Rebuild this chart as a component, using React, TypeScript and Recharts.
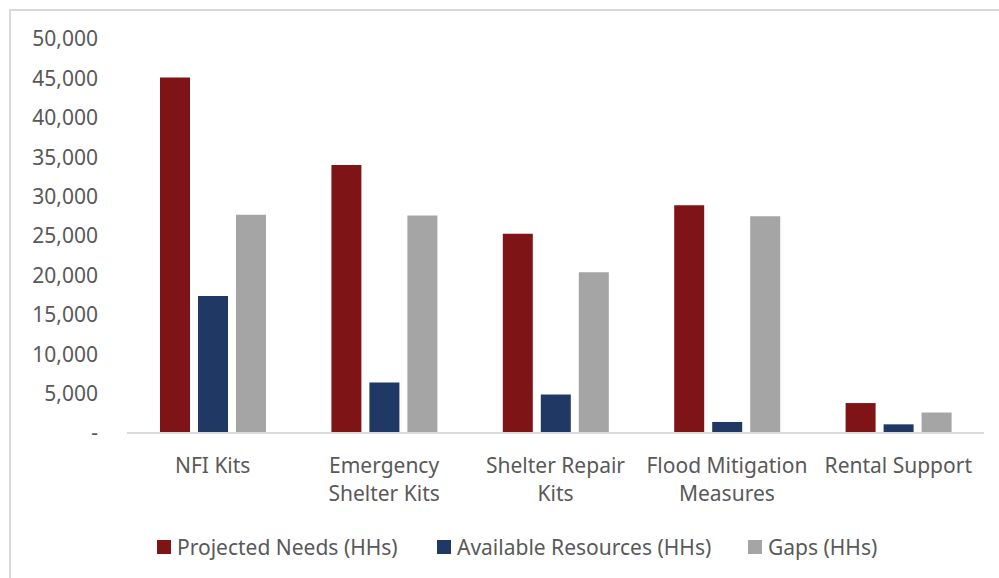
import { BarChart, Bar, XAxis, YAxis } from "recharts";

const categories = ["NFI Kits", "Emergency Shelter Kits", "Shelter Repair Kits", "Flood Mitigation Measures", "Rental Support"];
const tickLines = [["NFI Kits"], ["Emergency", "Shelter Kits"], ["Shelter Repair", "Kits"], ["Flood Mitigation", "Measures"], ["Rental Support"]];
const projectedNeeds = [45100, 34000, 25300, 28900, 3800];
const availableResources = [17400, 6400, 4900, 1400, 1100];
const gaps = [27700, 27600, 20400, 27500, 2600];
const yTicks = [0, 5000, 10000, 15000, 20000, 25000, 30000, 35000, 40000, 45000, 50000];

const series = [
  { key: "projected", name: "Projected Needs (HHs)", color: "#7e1416" },
  { key: "available", name: "Available Resources (HHs)", color: "#203864" },
  { key: "gaps", name: "Gaps (HHs)", color: "#a5a5a5" },
];

const data = categories.map((c, i) => ({
  category: c,
  projected: projectedNeeds[i],
  available: availableResources[i],
  gaps: gaps[i],
}));

const FONT = "'Noto Sans', sans-serif";
const TEXT = "#595959";
const FS = 21;

function CategoryTick(props: any) {
  const { x, y, index } = props;
  const lines = tickLines[index] || [];
  return (
    <g>
      {lines.map((l: string, i: number) => (
        <text key={i} x={x} y={y + 24 + i * 28} textAnchor="middle" dominantBaseline="central"
          fill={TEXT} fontSize={FS} fontFamily={FONT}>
          {l}
        </text>
      ))}
    </g>
  );
}

function LegendBox() {
  const xs = [157, 437, 748];
  return (
    <div style={{ position: "absolute", left: 0, top: 532, width: 999, height: 30 }}>
      {series.map((s, i) => (
        <div key={s.key} style={{ position: "absolute", left: xs[i], top: 0, display: "flex", alignItems: "center", height: 30 }}>
          <span style={{ width: 14, height: 14, background: s.color, display: "inline-block", marginRight: 6 }} />
          <span style={{ color: TEXT, fontSize: FS, fontFamily: FONT }}>{s.name}</span>
        </div>
      ))}
    </div>
  );
}

export default function App() {
  return (
    <div style={{ position: "fixed", left: 0, top: 0, width: 999, height: 578, background: "#fff", overflow: "hidden" }}>
      <div style={{ position: "absolute", left: 9, top: 9, width: 1100, height: 700, borderTop: "2px solid #d9d9d9", borderLeft: "2px solid #d9d9d9" }} />
      <BarChart width={999} height={578} data={data} margin={{ top: 39, right: 15, left: 0, bottom: 85 }}
        barGap={8} barCategoryGap="19%">
        <XAxis dataKey="category" interval={0} tick={<CategoryTick />} tickLine={false}
          axisLine={{ stroke: "#d9d9d9", strokeWidth: 2 }} height={60} />
        <YAxis width={127} domain={[0, 50000]} ticks={yTicks} axisLine={false} tickLine={false}
          tickSize={0} tickMargin={29}
          tick={{ fill: TEXT, fontSize: FS, fontFamily: FONT }}
          tickFormatter={(v: number) => (v === 0 ? "-" : v.toLocaleString("en-US"))} />
        {series.map((s) => (
          <Bar key={s.key} dataKey={s.key} name={s.name} fill={s.color} barSize={30} isAnimationActive={false} />
        ))}
      </BarChart>
      <LegendBox />
    </div>
  );
}
